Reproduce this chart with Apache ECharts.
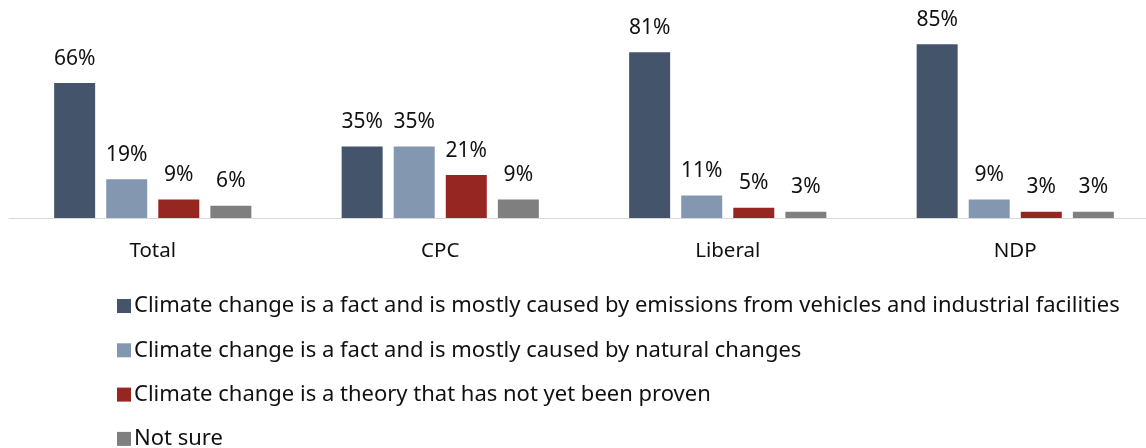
<!DOCTYPE html>
<html><head><meta charset="utf-8">
<script src="https://cdn.jsdelivr.net/npm/echarts@6/dist/echarts.min.js"></script>
<style>html,body{margin:0;padding:0;background:#fff;overflow:hidden}#c{width:1162px;height:470px}</style>
</head><body><div id="c"></div>
<script>
const categories = ['Total', 'CPC', 'Liberal', 'NDP'];
const seriesNames = [
  'Climate change is a fact and is mostly caused by emissions from vehicles and industrial facilities',
  'Climate change is a fact and is mostly caused by natural changes',
  'Climate change is a theory that has not yet been proven',
  'Not sure'
];
const emissions = [66, 35, 81, 85];
const natural = [19, 35, 11, 9];
const theory = [9, 21, 5, 3];
const notSure = [6, 9, 3, 3];
const colors = ['#44546a', '#8497b0', '#962622', '#7f7f7f'];
const values = [emissions, natural, theory, notSure];
const font = 'Noto Sans';
const chart = echarts.init(document.getElementById('c'));
chart.setOption({
  animation: false,
  textStyle: { fontFamily: font },
  grid: { left: 9, right: 3, top: 13.5, bottom: 252, containLabel: false },
  xAxis: {
    type: 'category', data: categories,
    axisLine: { lineStyle: { color: '#d9d9d9', width: 1 } },
    axisTick: { show: false },
    axisLabel: { color: '#111', fontSize: 20.5, margin: 23, fontFamily: font }
  },
  yAxis: { type: 'value', min: 0, max: 100, show: false, splitLine: { show: false } },
  legend: {
    orient: 'vertical', left: 112, top: 290, itemWidth: 14, itemHeight: 14, itemGap: 22.3,
    icon: 'rect',
    textStyle: { fontSize: 22, lineHeight: 22, color: '#111', fontFamily: font, padding: [0, 0, 0, -2] },
    data: seriesNames
  },
  series: values.map((v, i) => ({
    name: seriesNames[i], type: 'bar', data: v,
    barWidth: 41, barGap: '27%',
    itemStyle: { color: colors[i] },
    label: { show: true, position: 'top', distance: 14, formatter: '{c}%', fontSize: 21, color: '#111', fontFamily: font }
  }))
});
</script></body></html>
